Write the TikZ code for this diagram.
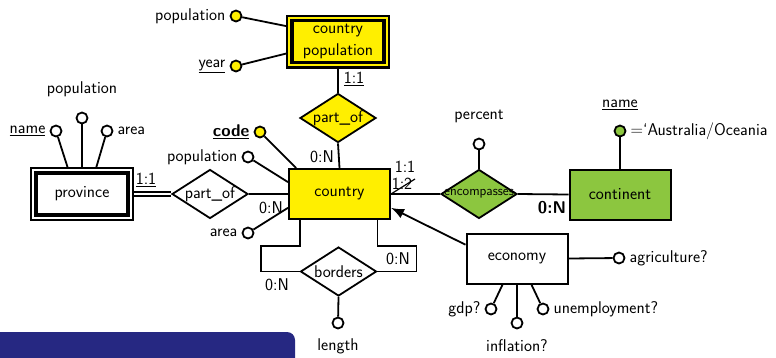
\documentclass[tikz,border=0pt]{standalone}
\usetikzlibrary{shapes.geometric,arrows.meta,backgrounds}
\definecolor{erYellow}{RGB}{255,239,0}
\definecolor{erGreen}{RGB}{140,198,63}
\definecolor{barBlue}{RGB}{38,40,130}

\begin{document}
\begin{tikzpicture}[x=1pt,y=-1pt,
    every node/.style={font=\sffamily\fontsize{17}{22}\selectfont},
    line width=1.8pt,
    link/.style={line width=1.8pt},
    entity/.style={draw, rectangle, line width=2pt, minimum width=101pt, minimum height=50pt},
    weak/.style={entity, fill=#1, line width=3.5pt, minimum width=92pt, minimum height=42pt,
        preaction={draw=black, line width=12pt}, preaction={draw=#1, line width=7.5pt}},
    relation/.style={draw, diamond, line width=1.8pt, minimum width=76pt, minimum height=49pt, inner sep=0pt},
    attr/.style={draw, circle, line width=1.8pt, minimum size=11pt, inner sep=0pt, fill=white},
    card/.style={inner sep=1pt}
]
    \useasboundingbox (0,0) rectangle (776,357);

    % slide bar
    \fill[barBlue, rounded corners=8pt] (-20,332) rectangle (295,390);

    % entities and relationships
    \node[weak=erYellow, align=center, inner sep=0pt] (cpop) at (338,41.5) {country\\population};
    \node[relation, fill=erYellow, label={center:part\_of}] (partof1) at (338,118) {};
    \node[entity, fill=erYellow] (country) at (339.5,194) {country};
    \node[weak=white] (province) at (82,194) {province};
    \node[relation, fill=white, label={center:part\_of}] (partof2) at (210,194) {};
    \node[relation, fill=erGreen, label={[font=\sffamily\fontsize{13.5}{15}\selectfont]center:encompasses}] (encomp) at (479,194) {};
    \node[entity, fill=erGreen] (continent) at (620,194.5) {continent};
    \node[entity, fill=white] (economy) at (517,258.5) {economy};
    \node[relation, fill=white, label={center:borders}] (borders) at (338.5,271.5) {};

    % attributes
    \node[attr, fill=erYellow, label=left:population] (cppop) at (236,16) {};
    \node[attr, fill=erYellow, label=left:\underline{year}] (cpyear) at (236,66) {};
    \node[attr, fill=erYellow, label=left:\textbf{\underline{code}}] (code) at (260,132) {};
    \node[attr, label=left:population] (cpopu) at (248,157) {};
    \node[attr, label=left:area] (carea) at (248,233) {};
    \node[attr, label={[label distance=5pt]below:length}] (length) at (338,323) {};
    \node[attr, label=left:\underline{name}] (pname) at (56,131) {};
    \node[attr, label={[label distance=11pt]above:population}] (ppop) at (82,118) {};
    \node[attr, label=right:area] (parea) at (107,131) {};
    \node[attr, label={[label distance=11pt]above:percent}] (percent) at (479,144) {};
    \node[attr, fill=erGreen, label={[label distance=11pt]above:\underline{name}},
        label=right:{$=$`Australia/Oceania}] (cname) at (620,131) {};
    \node[attr, label=right:agriculture?] (agri) at (619,258) {};
    \node[attr, label=left:gdp?] (gdp) at (491,309) {};
    \node[attr, label={[label distance=6pt]below:inflation?}] (infl) at (517,323) {};
    \node[attr, label=right:unemployment?] (unemp) at (543,309) {};

    % cardinalities
    \node[card] (c1) at (405,167) {1:1};
    \node[card] (c2) at (322,157) {0:N};
    \node[card] (c3) at (146,180) {\underline{1:1}};
    \node[card] (c4) at (271,208) {0:N};
    \node[card] (c5) at (398,259) {0:N};
    \node[card] (c6) at (277,285) {0:N};
    \node[card] (c7) at (354,79) {\underline{1:1}};
    \node[card] (c8) at (402,184) {1:2};
    \node[card] (c9) at (552,208) {\textbf{0:N}};
    \coordinate (strikeEnd) at (415,179);

    \begin{scope}[on background layer={link}]
        \draw (cppop) -- (cpop.163);
        \draw (cpyear) -- (cpop.193);
        \draw (cpop.south) -- (partof1.north);
        \draw (partof1.south) -- (country.north);
        \draw (code) -- (country.149);
        \draw (cpopu) -- (country.167);
        \draw (carea) -- (country.195);
        \draw (partof2.east) -- (country.west);
        \draw[line width=1.3pt, double, double distance=2.5pt] (province.east) -- (partof2.west);
        \draw (pname) -- (province.120);
        \draw (ppop) -- (province.north);
        \draw (parea) -- (province.60);
        \draw (country.east) -- (encomp.west);
        \draw (encomp.east) -- (continent.west);
        \draw (percent) -- (encomp.north);
        \draw (cname) -- (continent.north);
        \draw (country.south -| borders.west) -- ++(0,26) -- ++(-39,0) |- (borders.west);
        \draw (country.south -| borders.east) -- ++(0,26) -- ++(39,0) |- (borders.east);
        \draw (borders.south) -- (length);
        \draw (economy.east) -- (agri);
        \draw (gdp) -- (economy.241);
        \draw (infl) -- (economy.south);
        \draw (unemp) -- (economy.299);
    \end{scope}
    \draw[-{Latex[length=13pt,width=10pt]}] (economy.165) -- (country.345);
    \draw[line width=1.2pt] (country.east) -- (strikeEnd);
\end{tikzpicture}
\end{document}
